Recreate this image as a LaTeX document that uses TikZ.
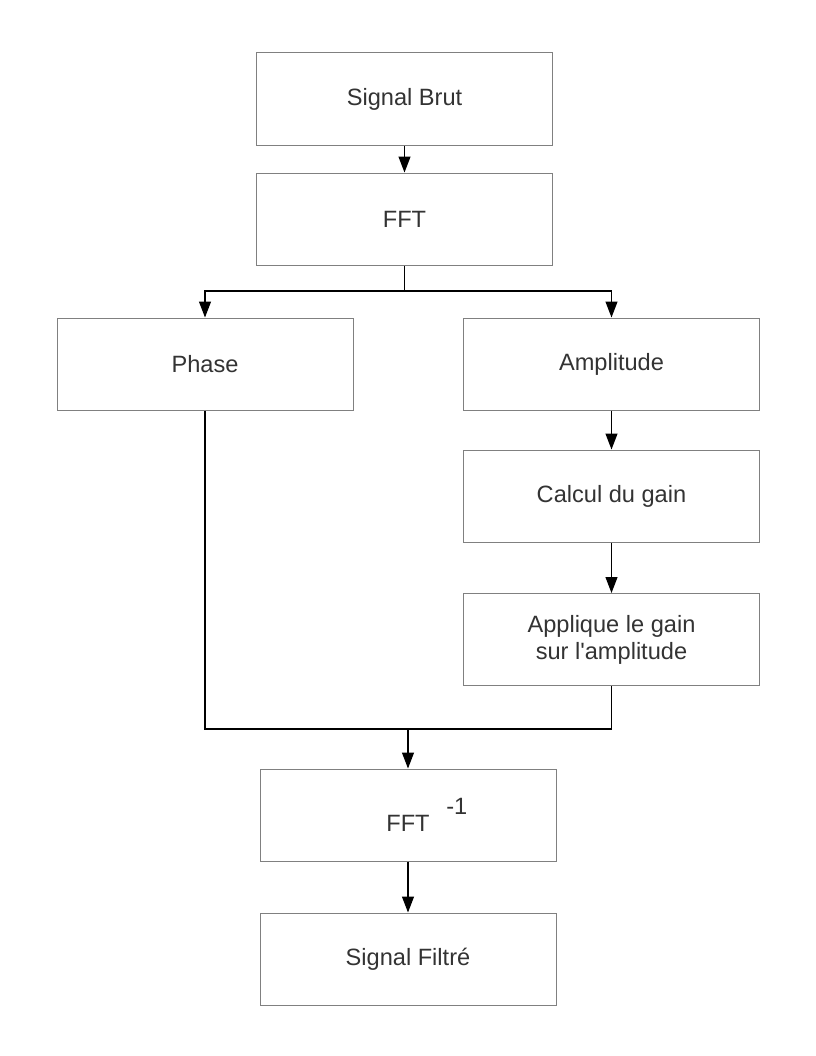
\documentclass[tikz,border=0pt]{standalone}
\usepackage{fontspec}
\setmainfont{Liberation Sans}
\usepackage{xcolor}
\usetikzlibrary{arrows.meta}
\definecolor{boxgray}{HTML}{808080}
\definecolor{txtgray}{HTML}{333333}

\tikzset{
  block/.style={draw=boxgray, line width=0.75pt, text=txtgray, align=center,
    minimum width=222pt, minimum height=69pt, inner sep=0pt,
    font=\fontsize{17.7}{20.25}\selectfont},
  arr/.style={-{Triangle[length=12pt,width=9pt]}},
}

\begin{document}
\begin{tikzpicture}[x=0.75pt, y=-0.75pt, line width=0.9pt]
    % Page frame
    \useasboundingbox (0,0) rectangle (816,1056);

    % Blocks
    \node[block] (brut)  at (404.5,99)  {Signal Brut};
    \node[block] (fft)   at (404.5,219) {FFT};
    \node[block] (phase) at (205,364)   {Phase};
    \node[block] (amp)   at (611.5,364) {Amplitude};
    \node[block] (gain)  at (611.5,496) {Calcul du gain};
    \node[block] (appl)  at (611.5,639.5) {Applique le gain\\sur l\textquotesingle amplitude};
    \node[block] (ifft)  at (408,815)   {FFT\rlap{\hspace{12.5pt}\raisebox{13pt}{-1}}};
    \node[block] (filt)  at (408,959)   {Signal Filtré};

    % Split and merge points
    \coordinate (split) at (404.5,291);
    \coordinate (merge) at (408,729);

    % Connectors
    \draw[arr] (brut) -- (fft);
    \draw (fft) -- (split);
    \draw[arr] (split) -| (phase);
    \draw[arr] (split) -| (amp);
    \draw[arr] (amp) -- (gain);
    \draw[arr] (gain) -- (appl);
    \draw (phase) |- (merge);
    \draw (appl) |- (merge);
    \draw[arr] (merge) -- (ifft);
    \draw[arr] (ifft) -- (filt);

\end{tikzpicture}
\end{document}
